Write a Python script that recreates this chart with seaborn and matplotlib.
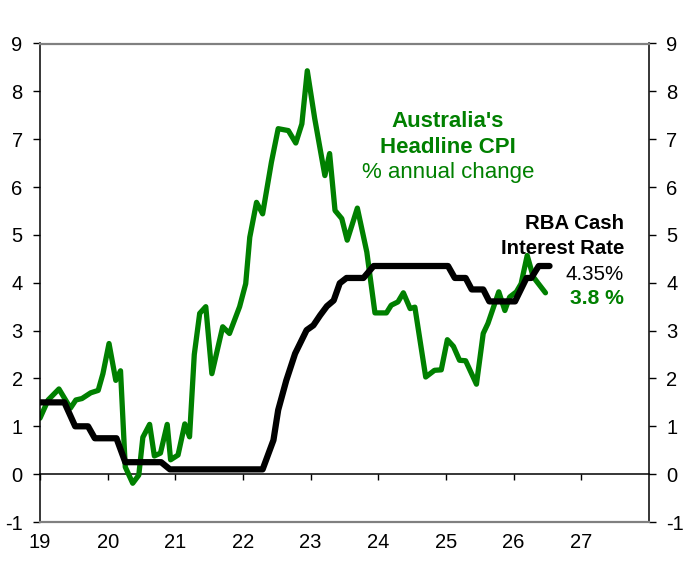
import matplotlib
matplotlib.use("Agg")
import matplotlib.pyplot as plt
import seaborn as sns
import pandas as pd

# ---- data ----
cpi_x = [2019.00, 2019.12, 2019.28, 2019.45, 2019.53, 2019.62, 2019.75, 2019.86, 2019.93,
         2020.02, 2020.12, 2020.19, 2020.26, 2020.37, 2020.46, 2020.52, 2020.62, 2020.69,
         2020.78, 2020.88, 2020.93, 2021.04, 2021.14, 2021.21, 2021.28, 2021.36, 2021.45,
         2021.54, 2021.70, 2021.80, 2021.95, 2022.04, 2022.10, 2022.20, 2022.29, 2022.42,
         2022.52, 2022.67, 2022.78, 2022.87, 2022.95, 2023.06, 2023.21, 2023.28, 2023.36,
         2023.46, 2023.54, 2023.69, 2023.83, 2023.95, 2024.12, 2024.19, 2024.29, 2024.37,
         2024.47, 2024.54, 2024.70, 2024.83, 2024.93, 2025.02, 2025.11, 2025.20, 2025.29,
         2025.45, 2025.55, 2025.62, 2025.78, 2025.87, 2025.94, 2026.04, 2026.11, 2026.20,
         2026.29, 2026.47]
cpi_y = [1.17, 1.55, 1.78, 1.38, 1.55, 1.58, 1.70, 1.75, 2.10,
         2.73, 1.96, 2.16, 0.15, -0.19, -0.02, 0.77, 1.04, 0.38,
         0.44, 1.04, 0.30, 0.40, 1.05, 0.78, 2.50, 3.36, 3.50,
         2.10, 3.08, 2.94, 3.50, 3.98, 4.95, 5.68, 5.44, 6.52,
         7.22, 7.18, 6.92, 7.32, 8.43, 7.43, 6.24, 6.70, 5.51,
         5.34, 4.89, 5.56, 4.64, 3.37, 3.37, 3.53, 3.60, 3.79,
         3.46, 3.49, 2.03, 2.17, 2.18, 2.81, 2.67, 2.38, 2.37,
         1.88, 2.94, 3.15, 3.81, 3.42, 3.70, 3.81, 3.98, 4.57,
         4.12, 3.79]

rate_x = [2019.00, 2019.36, 2019.52, 2019.71, 2019.81, 2020.13, 2020.26, 2020.79, 2020.92,
          2022.29, 2022.45, 2022.52, 2022.64, 2022.77, 2022.94, 2023.04, 2023.14, 2023.24,
          2023.34, 2023.43, 2023.53, 2023.78, 2023.93, 2025.03, 2025.13, 2025.29, 2025.38,
          2025.55, 2025.64, 2026.02, 2026.19, 2026.26, 2026.37, 2026.53]
rate_y = [1.50, 1.50, 1.00, 1.00, 0.75, 0.75, 0.25, 0.25, 0.10,
          0.10, 0.71, 1.34, 1.96, 2.52, 3.01, 3.11, 3.32, 3.51,
          3.63, 3.99, 4.10, 4.10, 4.35, 4.35, 4.10, 4.10, 3.86,
          3.86, 3.61, 3.61, 4.10, 4.10, 4.35, 4.35]

year_ticks = [2019, 2020, 2021, 2022, 2023, 2024, 2025, 2026, 2027]
year_labels = ["19", "20", "21", "22", "23", "24", "25", "26", "27"]
y_ticks = [-1, 0, 1, 2, 3, 4, 5, 6, 7, 8, 9]

GREEN = "#008000"

sns.set_style("white")
plt.rcParams['font.family'] = ['Liberation Sans', 'DejaVu Sans']

fig = plt.figure(figsize=(6.89, 5.69), dpi=100)
ax = fig.add_axes([40/689, 47/569, 609/689, 478.5/569])

cpi_df = pd.DataFrame({"x": cpi_x, "y": cpi_y})
rate_df = pd.DataFrame({"x": rate_x, "y": rate_y})

sns.lineplot(data=cpi_df, x="x", y="y", ax=ax, color=GREEN, linewidth=3.8,
             sort=False, estimator=None, solid_capstyle="round", solid_joinstyle="round")
sns.lineplot(data=rate_df, x="x", y="y", ax=ax, color="black", linewidth=4.5,
             sort=False, estimator=None, solid_capstyle="round", solid_joinstyle="round")

ax.set_xlim(2019.0, 2028.0)
ax.set_ylim(-1, 9)
ax.set_xlabel("")
ax.set_ylabel("")

ax.set_xticks(year_ticks)
ax.set_xticklabels(year_labels)
ax.set_yticks(y_ticks)
ax.set_yticklabels([str(v) for v in y_ticks])

ax.tick_params(axis="x", length=0, pad=8, labelsize=14.5, colors="black")
ax.tick_params(axis="y", left=True, right=True, labelleft=True, labelright=True,
               direction="out", length=5, width=1, pad=7.5, labelsize=14.5, colors="black")

for side in ["top", "bottom"]:
    ax.spines[side].set_color("#808080")
    ax.spines[side].set_linewidth(1.6)
for side in ["left", "right"]:
    ax.spines[side].set_color("black")
    ax.spines[side].set_linewidth(1.1)

# zero line with downward year tick marks
y0, y1 = ax.get_ylim()
sec = ax.secondary_xaxis((0 - y0) / (y1 - y0))
sec.set_xticks(year_ticks)
sec.tick_params(axis="x", direction="out", length=4, width=1, labelbottom=False, colors="black")
sec.spines["bottom"].set_color("black")
sec.spines["bottom"].set_linewidth(1.1)

# annotations
ax.text(2025.03, 7.265, "Australia's", color=GREEN, fontsize=16, fontweight="bold",
        ha="center", va="baseline")
ax.text(2025.03, 6.72, "Headline CPI", color=GREEN, fontsize=16, fontweight="bold",
        ha="center", va="baseline")
ax.text(2025.03, 6.18, "% annual change", color=GREEN, fontsize=16,
        ha="center", va="baseline")

ax.text(2027.63, 5.13, "RBA Cash", color="black", fontsize=14.7, fontweight="bold",
        ha="right", va="baseline")
ax.text(2027.63, 4.61, "Interest Rate", color="black", fontsize=14.7, fontweight="bold",
        ha="right", va="baseline")
ax.text(2027.63, 4.065, "4.35%", color="black", fontsize=14.8,
        ha="right", va="baseline")
ax.text(2027.63, 3.55, "3.8 %", color=GREEN, fontsize=15.2, fontweight="bold",
        ha="right", va="baseline")

fig.savefig("out.png", dpi=100)
